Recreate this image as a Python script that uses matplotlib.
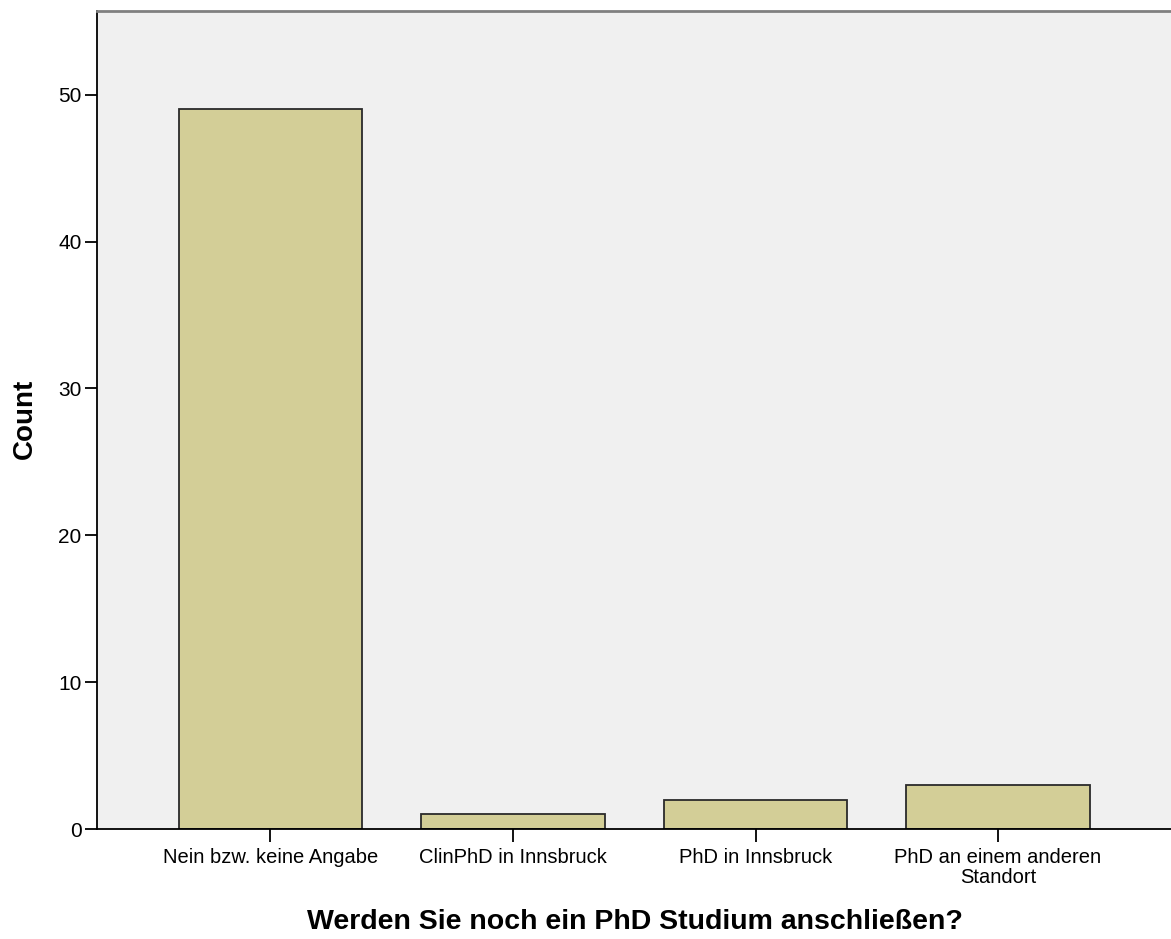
import matplotlib.pyplot as plt

categories = ['Nein bzw. keine Angabe', 'ClinPhD in Innsbruck',
              'PhD in Innsbruck', 'PhD an einem anderen\nStandort']
counts = [49, 1, 2, 3]

plt.rcParams['font.family'] = ['Liberation Sans', 'DejaVu Sans']

fig = plt.figure(figsize=(11.71, 9.39), dpi=100)
ax = fig.add_axes([0.0828, 0.1171, 0.9172, 0.8712])
ax.set_facecolor('#F0F0F0')

x = range(len(categories))
ax.bar(x, counts, width=0.755, color='#D3CE97', edgecolor='#2a2a2a', linewidth=1.3)

ax.set_xlim(-0.715, 3.713)
ax.set_ylim(0, 55.7)
ax.set_yticks([0, 10, 20, 30, 40, 50])
ax.set_xticks(list(x))
ax.set_xticklabels(categories, fontsize=14.5, linespacing=1.05)
ax.tick_params(axis='y', labelsize=15, length=9, width=1.3, direction='out', pad=2)
ax.tick_params(axis='x', length=9, width=1.3, direction='out', pad=5)

ax.spines['right'].set_visible(False)
ax.spines['top'].set_color('#808080')
ax.spines['top'].set_linewidth(2)
ax.spines['left'].set_linewidth(1.3)
ax.spines['bottom'].set_linewidth(1.3)

# axis titles placed like the SPSS output
fig.text(635 / 1171, 1 - 922 / 939, 'Werden Sie noch ein PhD Studium anschließen?',
         fontsize=20.5, fontweight='bold', ha='center', va='center')
fig.text(25 / 1171, 1 - 419 / 939, 'Count', fontsize=20, fontweight='bold',
         rotation=90, ha='center', va='center')

fig.savefig('out.png', dpi=100)
